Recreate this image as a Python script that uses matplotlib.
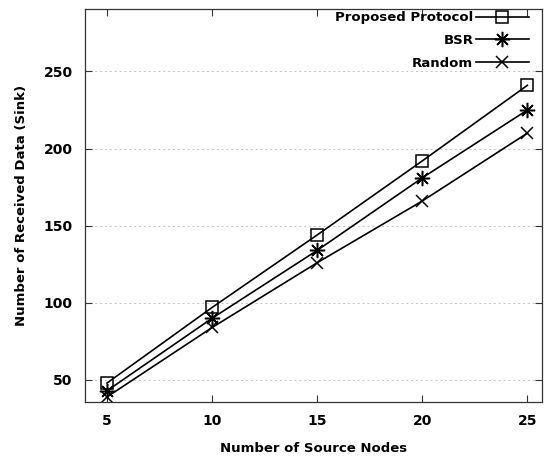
import matplotlib
matplotlib.use("Agg")
import matplotlib.pyplot as plt

x_nodes = [5, 10, 15, 20, 25]
proposed = [48, 97, 144, 192, 241]
bsr = [43, 90, 134, 181, 225]
random_sel = [39, 84, 126, 166, 210]
labels = ["Proposed Protocol", "BSR", "Random"]
y_ticks = [50, 100, 150, 200, 250]

plt.rcParams['font.family'] = ['DejaVu Sans']
plt.rcParams['font.weight'] = 'bold'

fig = plt.figure(figsize=(5.47, 4.57), dpi=100)
ax = fig.add_axes([0.1554, 0.1204, 0.991 - 0.1554, 0.980 - 0.1204])

kw = dict(color='black', lw=1.2, markerfacecolor='none',
          markeredgecolor='black', markeredgewidth=1.1)
ax.plot(x_nodes, proposed, marker='s', markersize=8, label=labels[0], **kw)
ax.plot(x_nodes, bsr, marker=(8, 2, 0), markersize=11, label=labels[1], **kw)
ax.plot(x_nodes, random_sel, marker='x', markersize=8, label=labels[2], **kw)

ax.set_xlim(3.95, 25.7)
ax.set_ylim(35.7, 290.4)
ax.set_xticks(x_nodes)
ax.set_yticks(y_ticks)
ax.yaxis.grid(True, linestyle=(0, (2, 3)), color='#c4c4c4', lw=0.7)
ax.set_axisbelow(True)
ax.tick_params(direction='in', top=True, right=True, length=5, width=0.8,
               labelsize=10, pad=9, color='#333333')
for lab in ax.get_xticklabels() + ax.get_yticklabels():
    lab.set_fontweight('bold')
for s in ax.spines.values():
    s.set_color('#333333')
    s.set_linewidth(0.9)

ax.set_xlabel("Number of Source Nodes", fontsize=9.5, fontweight='bold', labelpad=10)
ax.set_ylabel("Number of Received Data (Sink)", fontsize=9.5, fontweight='bold', labelpad=11)

leg = ax.legend(loc='upper right', bbox_to_anchor=(0.975, 1.0), frameon=False,
                markerfirst=False, handlelength=4.0, handletextpad=0.2,
                labelspacing=0.75, borderaxespad=0.0, borderpad=0.15,
                prop={'weight': 'bold', 'size': 9.5})

fig.savefig("out.png", dpi=100)
